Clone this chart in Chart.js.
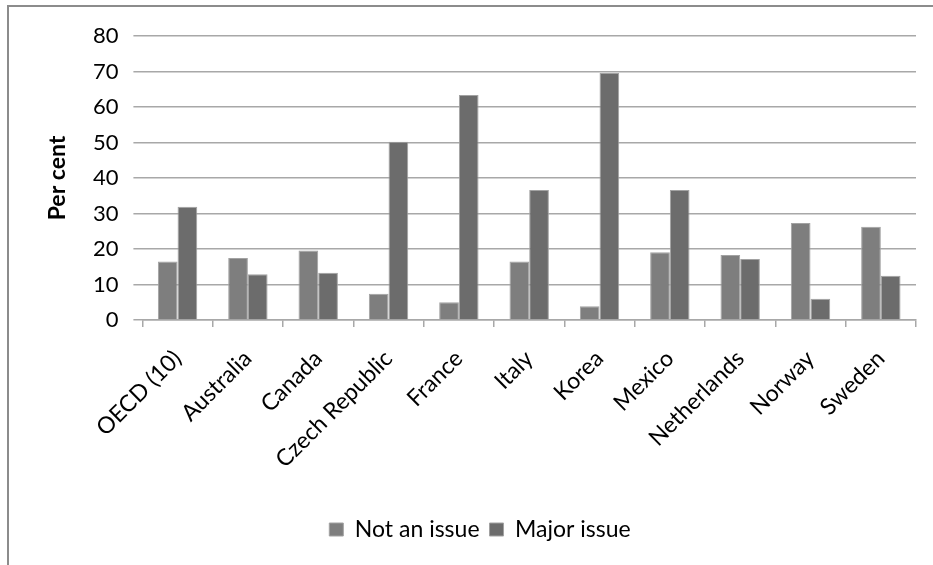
<!DOCTYPE html>
<html>
<head>
<meta charset="utf-8">
<script src="https://cdn.jsdelivr.net/npm/chart.js@4/dist/chart.umd.min.js"></script>
<style>
  html, body { margin: 0; padding: 0; background: #fff; overflow: hidden; }
  #frame {
    position: absolute; left: 7px; top: 5px; width: 1000px; height: 700px;
    border-left: 2px solid #8c8c8c; border-top: 2px solid #8c8c8c;
  }
  #wrap { position: absolute; left: 0; top: 0; width: 933px; height: 565px; }
</style>
</head>
<body>
<div id="frame"></div>
<div id="wrap"><canvas id="chart" width="933" height="565"></canvas></div>
<script>
const categories = ['OECD (10)', 'Australia', 'Canada', 'Czech Republic', 'France', 'Italy',
  'Korea', 'Mexico', 'Netherlands', 'Norway', 'Sweden'];
const notAnIssue = [16.5, 17.5, 19.6, 7.4, 5.0, 16.5, 3.9, 19.1, 18.3, 27.3, 26.3];
const majorIssue = [31.9, 12.9, 13.3, 50.2, 63.4, 36.6, 69.6, 36.6, 17.2, 6.0, 12.5];
const yTicks = [0, 10, 20, 30, 40, 50, 60, 70, 80];

const FONT = 'Lato, "Open Sans", sans-serif';
const GRID = '#a8a8a8';

new Chart(document.getElementById('chart'), {
  type: 'bar',
  data: {
    labels: categories,
    datasets: [
      { label: 'Not an issue', data: notAnIssue, backgroundColor: '#7e7e7e',
        borderColor: '#a2a2a2', borderWidth: 1 },
      { label: 'Major issue', data: majorIssue, backgroundColor: '#6c6c6c',
        borderColor: '#a2a2a2', borderWidth: 1 }
    ]
  },
  options: {
    responsive: false,
    animation: false,
    datasets: { bar: { categoryPercentage: 0.56, barPercentage: 1.0 } },
    layout: { padding: { top: 36, left: 44, right: 17, bottom: 14 } },
    plugins: {
      tooltip: { enabled: false },
      legend: {
        position: 'bottom',
        labels: {
          color: '#000',
          font: { family: FONT, size: 23 },
          boxWidth: 14, boxHeight: 13,
          padding: 10
        }
      }
    },
    scales: {
      x: {
        afterFit: (s) => { s.height = 188; },
        grid: { drawOnChartArea: false, offset: true, tickLength: 7, color: GRID, lineWidth: 1.5 },
        border: { color: GRID, width: 1.5 },
        ticks: {
          color: '#000', font: { family: FONT, size: 23 },
          minRotation: 45, maxRotation: 45, autoSkip: false, padding: 18
        }
      },
      y: {
        min: 0, max: 80,
        afterBuildTicks: (s) => { s.ticks = yTicks.map(v => ({ value: v })); },
        afterFit: (s) => { s.width = 98.4; },
        grid: { color: GRID, lineWidth: 1.5, tickLength: 9 },
        border: { display: false },
        ticks: { color: '#000', font: { family: FONT, size: 22 }, padding: 15 },
        title: {
          display: true, text: 'Per cent', color: '#000',
          font: { family: FONT, size: 23, weight: 'bold' },
          padding: { top: 0, bottom: 0 }
        }
      }
    }
  }
});
</script>
</body>
</html>
